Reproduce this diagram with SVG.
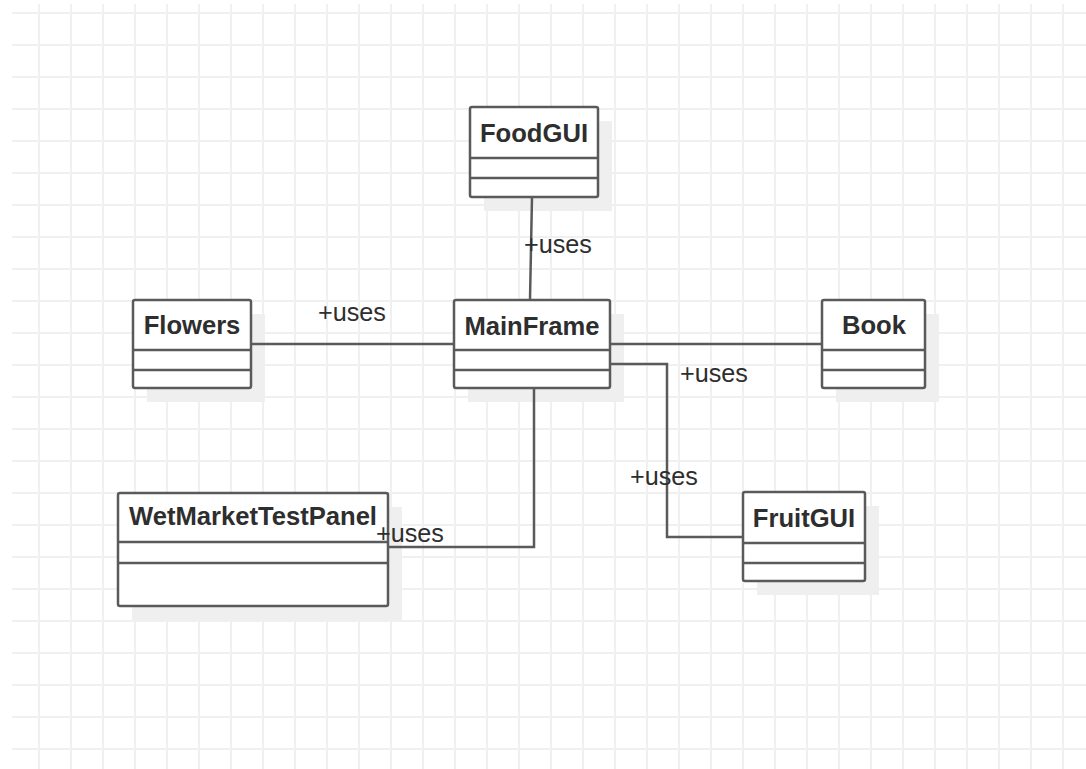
<svg xmlns="http://www.w3.org/2000/svg" width="1086" height="769" viewBox="0 0 1086 769">
<style>
.box{fill:#ffffff;stroke:#5a5a5a;stroke-width:2.5}
.shadow{fill:#efefef;stroke:none}
.div{stroke:#5a5a5a;stroke-width:2.5}
.title{font-family:"Liberation Sans",Arial,sans-serif;font-weight:bold;font-size:25.6px;fill:#2e2e2e;text-anchor:middle}
.lbl{font-family:"Liberation Sans",Arial,sans-serif;font-size:25.2px;fill:#2e2e2e}
.edge{fill:none;stroke:#5a5a5a;stroke-width:2.5}
</style>
<defs>
<pattern id="grid" patternUnits="userSpaceOnUse" x="23" y="-3" width="32" height="32">
<path d="M16 0V32M0 16H32" stroke="#f0f0f0" stroke-width="2" fill="none"/>
</pattern>
</defs>
<rect width="1086" height="769" fill="#ffffff"/>
<rect x="12" y="4" width="1074" height="765" fill="url(#grid)"/>

<g id="FoodGUI">
<rect class="shadow" x="484" y="121" width="128" height="90"/>
<rect class="box" x="470" y="107" width="128" height="90" rx="2"/>
<path class="div" d="M470 158H598M470 178H598"/>
<text class="title" x="534" y="142">FoodGUI</text>
</g>

<g id="MainFrame">
<rect class="shadow" x="468" y="314" width="156" height="88"/>
<rect class="box" x="454" y="300" width="156" height="88" rx="2"/>
<path class="div" d="M454 350H610M454 370H610"/>
<text class="title" x="532" y="335">MainFrame</text>
</g>

<g id="Flowers">
<rect class="shadow" x="147" y="314" width="118" height="88"/>
<rect class="box" x="133" y="300" width="118" height="88" rx="2"/>
<path class="div" d="M133 350H251M133 370H251"/>
<text class="title" x="192" y="334">Flowers</text>
</g>

<g id="Book">
<rect class="shadow" x="836" y="314" width="103" height="88"/>
<rect class="box" x="822" y="300" width="103" height="88" rx="2"/>
<path class="div" d="M822 350H925M822 370H925"/>
<text class="title" x="874" y="334">Book</text>
</g>

<g id="FruitGUI">
<rect class="shadow" x="757" y="506" width="122" height="89"/>
<rect class="box" x="743" y="492" width="122" height="89" rx="2"/>
<path class="div" d="M743 543H865M743 563H865"/>
<text class="title" x="804" y="527">FruitGUI</text>
</g>

<g id="WetMarketTestPanel">
<rect class="shadow" x="132" y="507" width="270" height="113"/>
<rect class="box" x="118" y="493" width="270" height="113" rx="2"/>
<path class="div" d="M118 542H388M118 563H388"/>
<text class="title" x="253" y="525">WetMarketTestPanel</text>
</g>

<g id="edges">
<path class="edge" d="M532 197L530 300"/>
<path class="edge" d="M251 344H454"/>
<path class="edge" d="M610 344H822"/>
<path class="edge" d="M610 364H667V537H743"/>
<path class="edge" d="M534 388V547H388"/>
</g>

<g id="labels">
<text class="lbl" x="524" y="253">+uses</text>
<text class="lbl" x="318" y="321">+uses</text>
<text class="lbl" x="680" y="382">+uses</text>
<text class="lbl" x="630" y="485">+uses</text>
<text class="lbl" x="376" y="542">+uses</text>
</g>
</svg>
